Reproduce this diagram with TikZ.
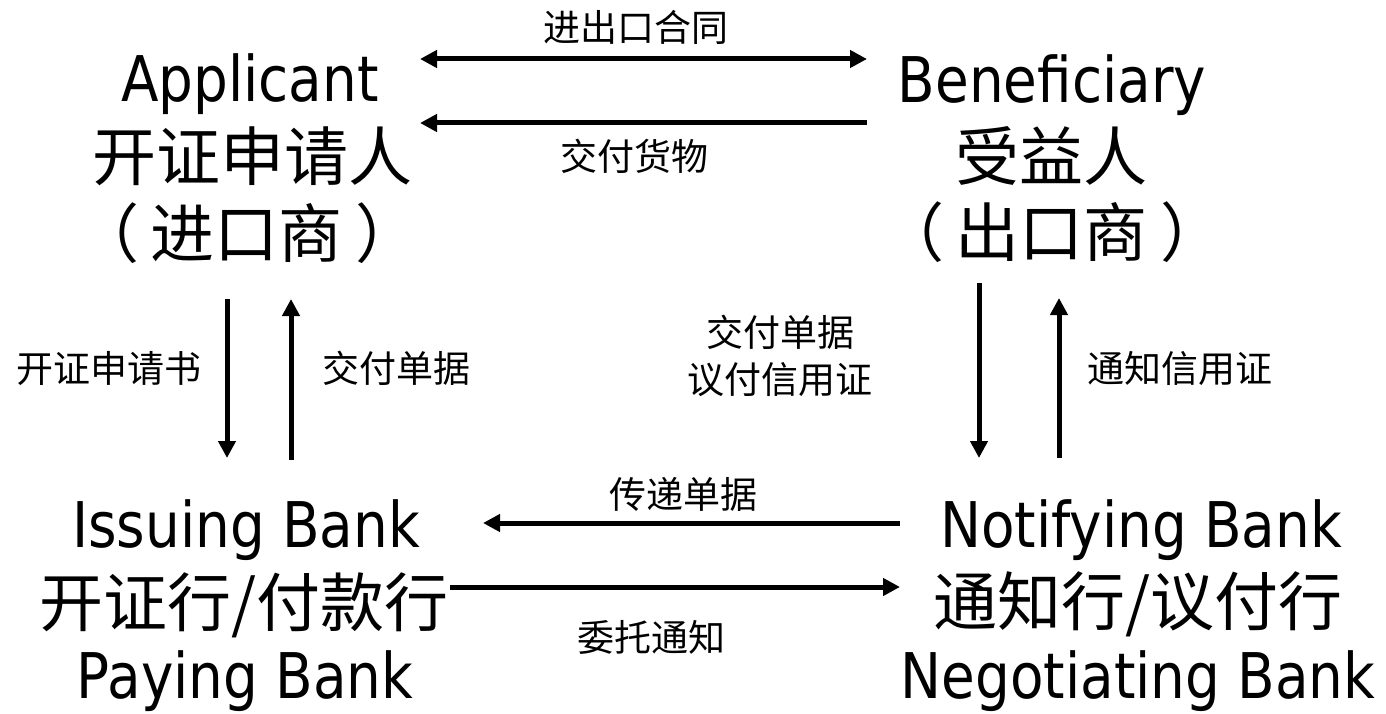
\documentclass[tikz,border=0pt]{standalone}
\usepackage{fontspec}
\setmainfont{DejaVu Sans}[FakeStretch=0.87]
\newfontfamily\cjk{Noto Sans CJK SC}
\usetikzlibrary{arrows.meta}
\tikzset{
  big/.style={inner sep=0pt, anchor=base, font=\fontsize{63}{70}\selectfont},
  bigcjk/.style={inner sep=0pt, anchor=base, font=\cjk\fontsize{64}{70}\selectfont},
  lbl/.style={inner sep=0pt, anchor=base, font=\cjk\fontsize{37}{44}\selectfont},
  flow/.style={line width=5pt, -{Triangle[length=17pt,width=17pt]}},
  flow2/.style={line width=5pt, {Triangle[length=17pt,width=17pt]}-{Triangle[length=17pt,width=17pt]}}
}
\begin{document}
\begin{tikzpicture}[x=1pt,y=-1pt]
\useasboundingbox (0,0) rectangle (1386,714);
% party blocks
\node[big]    (app1) at (250,102) {Applicant};
\node[bigcjk] (app2) at (252,181) {开证申请人};
\node[bigcjk] (app3) at (247,257) {（\kern12pt 进口商\kern12pt ）};
\node[big]    (ben1) at (1052,103) {Beneficiary};
\node[bigcjk] (ben2) at (1051,181) {受益人};
\node[bigcjk] (ben3) at (1052,256) {（\kern12pt 出口商\kern12pt ）};
\node[big]    (iss1) at (246,547) {Issuing Bank};
\node[bigcjk] (iss2) at (244,626) {开证行/付款行};
\node[big]    (iss3) at (245,698) {Paying Bank};
\node[big]    (not1) at (1141,547) {Notifying Bank};
\node[bigcjk] (not2) at (1138,625) {通知行/议付行};
\node[big]    (not3) at (1138,698) {Negotiating Bank};
% labels
\node[lbl] (l1) at (636,42) {进出口合同};
\node[lbl] (l2) at (634,171) {交付货物};
\node[lbl] (l3) at (109,382) {开证申请书};
\node[lbl] (l4) at (396,382) {交付单据};
\node[lbl] (l5a) at (780,346) {交付单据};
\node[lbl] (l5b) at (780,393) {议付信用证};
\node[lbl] (l6) at (1180,382) {通知信用证};
\node[lbl] (l7) at (683,508) {传递单据};
\node[lbl] (l8) at (651,651) {委托通知};
% connector ends
\coordinate (t1a) at (420,59);  \coordinate (t1b) at (867,59);
\coordinate (t2a) at (867,123); \coordinate (t2b) at (420,123);
\coordinate (v1a) at (227,299); \coordinate (v1b) at (227,458);
\coordinate (v2a) at (291,460); \coordinate (v2b) at (291,299);
\coordinate (v3a) at (979,283); \coordinate (v3b) at (979,458);
\coordinate (v4a) at (1059,458); \coordinate (v4b) at (1059,298);
\coordinate (b1a) at (900,523); \coordinate (b1b) at (483,523);
\coordinate (b2a) at (450,587); \coordinate (b2b) at (900,587);
% connectors
\draw[flow2] (t1a) -- (t1b);
\draw[flow] (t2a) -- (t2b);
\draw[flow] (v1a) -- (v1b);
\draw[flow] (v2a) -- (v2b);
\draw[flow] (v3a) -- (v3b);
\draw[flow] (v4a) -- (v4b);
\draw[flow] (b1a) -- (b1b);
\draw[flow] (b2a) -- (b2b);
\end{tikzpicture}
\end{document}
